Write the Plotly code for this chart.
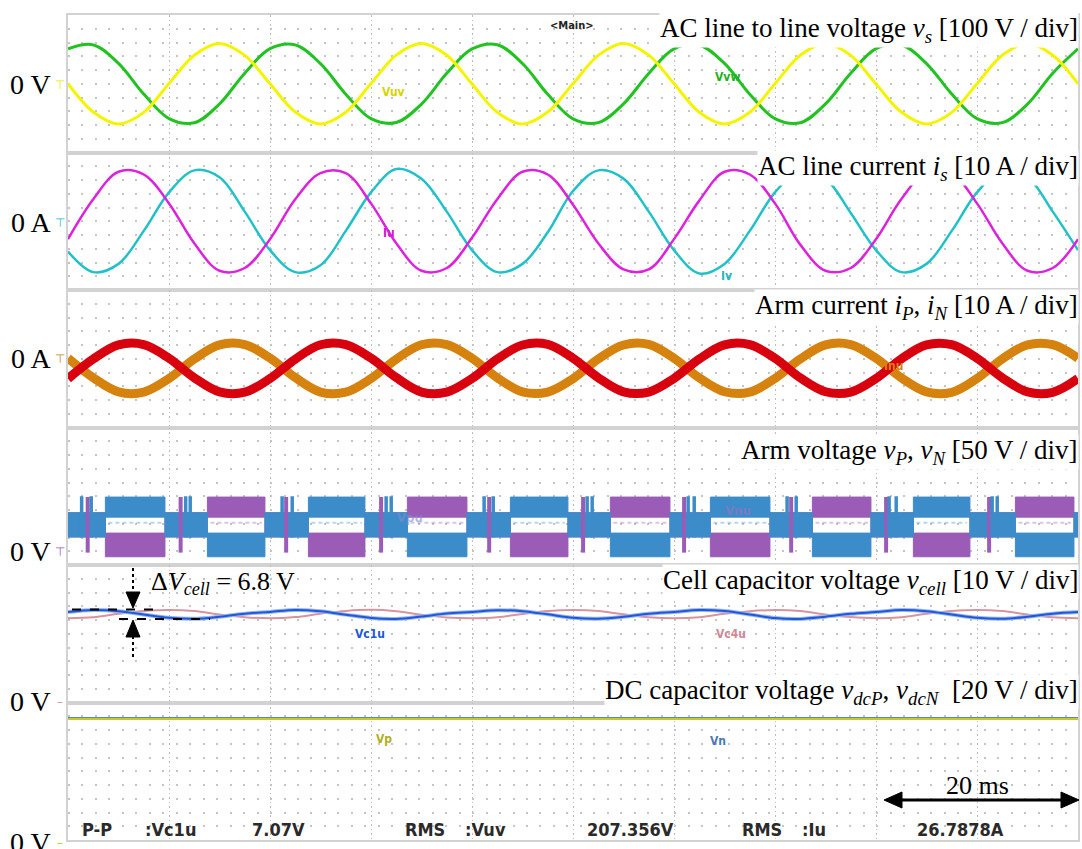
import plotly.graph_objects as go

# ---------------- data ----------------
T_GRID = [i * 2.5 for i in range(41)]  # time [ms], 10 ms/div

# Panel 1: AC line-to-line voltages [V]
VUV = [0, -205, -292, -208, 2, 207, 293, 206,
       0, -206, -292, -207, 1, 208, 292, 207,
       -1, -207, -293, -206, 0, 206, 293, 208,
       1, -207, -292, -207, 0, 207, 293, 206,
       -1, -206, -292, -208, 0, 207, 292, 207,
       0]
VVW = [254, 283, 148, -75, -253, -284, -147, 77,
       255, 283, 146, -76, -254, -282, -148, 76,
       253, 284, 147, -77, -255, -283, -146, 75,
       254, 282, 148, -76, -253, -284, -147, 76,
       255, 283, 147, -75, -254, -283, -148, 77,
       254]

# Panel 2: AC line currents [A]
IU = [-13, 16, 36, 34, 13, -16, -36, -34,
      -13, 16, 35, 35, 13, -16, -36, -34,
      -12, 16, 36, 34, 12, -16, -35, -35,
      -13, 15, 36, 34, 13, -17, -36, -34,
      -13, 16, 36, 35, 13, -16, -36, -34,
      -13]
IV = [-22, -37, -31, -7, 21, 37, 32, 7,
      -21, -37, -32, -7, 21, 38, 31, 7,
      -21, -37, -31, -8, 22, 37, 31, 7,
      -21, -38, -31, -7, 21, 37, 31, 6,
      -21, -37, -31, -7, 21, 37, 32, 7,
      -21]

# Panel 3: arm currents [A]
IP = [-14.5, -0.2, 10.1, 10.3, 0.4, -13.8, -24.1, -24.3,
      -14.4, -0.3, 10.2, 10.3, 0.5, -13.7, -24.2, -24.3,
      -14.4, -0.2, 10.0, 10.4, 0.4, -13.8, -24.1, -24.2,
      -14.3, -0.2, 10.1, 10.3, 0.3, -13.9, -24.0, -24.3,
      -14.4, -0.1, 10.1, 10.2, 0.4, -13.8, -24.1, -24.4,
      -14.4]
IN = [0.4, -13.8, -24.1, -24.3, -14.4, -0.2, 10.1, 10.3,
      0.5, -13.7, -24.2, -24.3, -14.4, -0.3, 10.2, 10.3,
      0.4, -13.8, -24.1, -24.2, -14.5, -0.2, 10.0, 10.4,
      0.3, -13.9, -24.0, -24.3, -14.3, -0.2, 10.1, 10.3,
      0.4, -13.8, -24.1, -24.4, -14.4, -0.1, 10.1, 10.2,
      0.4]

# Panel 4: arm voltages (multilevel blocks) [ms] and band levels [V]
P_HIGH_START = [3.7, 23.8, 43.8, 63.6, 83.7]
P_HIGH_END = [9.6, 29.4, 49.5, 69.5, 89.3]
N_HIGH_START = [13.8, 33.6, 53.7, 73.7, 93.8]
N_HIGH_END = [19.5, 39.5, 59.6, 79.5, 99.6]
ARM_HIGH = (124, 197)
ARM_MID = (52, 140)
ARM_LOW = (-20, 66)
ARM_GAP_TRACE = 104
SPIKE_P = [1.35, 2.3, 11.65, 12.1, 21.2, 22.2, 31.5, 32.0, 41.2, 42.1,
           51.4, 51.9, 61.4, 62.0, 71.2, 72.1, 81.3, 82.0, 91.5, 92.0]
SPIKE_N = [1.95, 11.15, 21.6, 31.0, 41.7, 51.0, 61.0, 71.6, 81.0, 91.2]
SPIKE_SPAN_P = (50, 200)
SPIKE_SPAN_N = (-5, 197)

# Panel 5: cell capacitor voltages [V]
VC1U = [65.8, 67.2, 66.4, 64.0, 61.6, 60.9, 62.4, 64.6,
        65.9, 67.3, 66.3, 63.9, 61.5, 60.8, 62.5, 64.7,
        65.8, 67.1, 66.4, 64.1, 61.6, 60.9, 62.3, 64.6,
        65.9, 67.2, 66.5, 64.0, 61.4, 60.8, 62.4, 64.5,
        65.8, 67.2, 66.4, 64.0, 61.6, 60.9, 62.4, 64.6,
        65.8]
VC4U = [61.3, 62.0, 64.5, 66.5, 67.3, 66.5, 64.0, 62.0,
        61.2, 62.1, 64.6, 66.6, 67.4, 66.4, 63.9, 61.9,
        61.3, 62.0, 64.4, 66.5, 67.3, 66.6, 64.1, 62.0,
        61.2, 62.0, 64.5, 66.4, 67.2, 66.5, 64.0, 62.1,
        61.3, 62.0, 64.5, 66.5, 67.3, 66.5, 64.0, 62.0,
        61.3]
VCELL_MAX = 67.6
VCELL_MIN = 60.8  # difference = 6.8 V

# Panel 6: DC capacitor voltages [V]
T_DC = [0, 10, 20, 30, 40, 50, 60, 70, 80, 90, 100]
VDCP = [176.0, 176.1, 176.0, 175.9, 176.0, 176.1, 176.0, 176.0, 175.9, 176.0, 176.0]
VDCN = [176.6, 176.5, 176.6, 176.7, 176.6, 176.5, 176.6, 176.6, 176.7, 176.6, 176.6]

# ---------------- layout helpers ----------------
W, H = 1082, 849


def PX(x):
    return x / W


def PY(y):
    return 1 - y / H


X_DOM = [PX(68), PX(1078)]
BOUNDS = [15, 152.5, 290, 427.5, 565, 702.5, 840]
Y_RANGES = [(-500, 500), (-50, 50), (-50, 50), (-50, 450), (0, 100), (0, 200)]
GRID_DOT = "#c4c4c4"
BORDER = "#d2d2d2"

fig = go.Figure()


def ax(i):
    return ("x" if i == 1 else f"x{i}"), ("y" if i == 1 else f"y{i}")


def add_line(i, x, y, color, width, shape="spline", dash=None, opacity=1.0):
    xa, ya = ax(i)
    fig.add_trace(go.Scatter(x=x, y=y, mode="lines", xaxis=xa, yaxis=ya, opacity=opacity,
                             line=dict(color=color, width=width, shape=shape, smoothing=1.0,
                                       dash=dash),
                             hoverinfo="skip"))


# Panel 1
add_line(1, T_GRID, VVW, "#22c222", 3)
add_line(1, T_GRID, VUV, "#f4f400", 3)
# Panel 2
add_line(2, T_GRID, IV, "#22c0c8", 2.5)
add_line(2, T_GRID, IU, "#dc22dc", 2.5)
# Panel 3
add_line(3, T_GRID, IN, "#d6820f", 9)
add_line(3, T_GRID, IP, "#d8000e", 9)


# Panel 4 : band polygons
def band_polys(high_iv, low_iv, t_end=100.0):
    segs = [(s, e, ARM_HIGH) for s, e in high_iv] + [(s, e, ARM_LOW) for s, e in low_iv]
    segs.sort()
    out = []
    t = 0.0
    for s, e, lev in segs:
        if s > t:
            out.append((t, s, ARM_MID))
        out.append((s, e, lev))
        t = e
    if t < t_end:
        out.append((t, t_end, ARM_MID))
    xs, ys = [], []
    for s, e, (lo, hi) in out:
        xs += [s, e, e, s, s, None]
        ys += [lo, lo, hi, hi, lo, None]
    return xs, ys


def spikes(times, span):
    xs, ys = [], []
    for t in times:
        xs += [t, t, None]
        ys += [span[0], span[1], None]
    return xs, ys


def gap_dashes(high_iv):
    xs, ys = [], []
    for s, e in high_iv:
        xs += [s + 0.3, e - 0.3, None]
        ys += [ARM_GAP_TRACE, ARM_GAP_TRACE, None]
    return xs, ys


p_high = list(zip(P_HIGH_START, P_HIGH_END))
n_high = list(zip(N_HIGH_START, N_HIGH_END))
COL_P = "#3d8cca"
COL_N = "#9a5cb6"
xn, yn = band_polys(n_high, p_high)
xp, yp = band_polys(p_high, n_high)
fig.add_trace(go.Scatter(x=xn, y=yn, mode="lines", fill="toself", fillcolor=COL_N,
                         line=dict(color=COL_N, width=1), xaxis="x4", yaxis="y4", hoverinfo="skip"))
fig.add_trace(go.Scatter(x=xp, y=yp, mode="lines", fill="toself", fillcolor=COL_P,
                         line=dict(color=COL_P, width=1), xaxis="x4", yaxis="y4", hoverinfo="skip"))
gxp, gyp = gap_dashes(p_high)
gxn, gyn = gap_dashes(n_high)
add_line(4, gxp, gyp, COL_P, 2, shape="linear", dash="4px,3px", opacity=0.35)
add_line(4, gxn, gyn, COL_N, 2, shape="linear", dash="4px,3px", opacity=0.35)
sxn, syn = spikes(SPIKE_N, SPIKE_SPAN_N)
sxp, syp = spikes(SPIKE_P, SPIKE_SPAN_P)
fig.add_trace(go.Scatter(x=sxn, y=syn, mode="lines", line=dict(color=COL_N, width=4),
                         xaxis="x4", yaxis="y4", hoverinfo="skip"))
fig.add_trace(go.Scatter(x=sxp, y=syp, mode="lines", line=dict(color=COL_P, width=3.5),
                         xaxis="x4", yaxis="y4", hoverinfo="skip"))

# Panel 5
add_line(5, T_GRID, VC4U, "#d8949e", 2)
add_line(5, T_GRID, VC1U, "#9ab8f0", 4)
add_line(5, T_GRID, VC1U, "#2058d8", 2)
# Panel 6
add_line(6, T_DC, VDCN, "#5a88c4", 3, shape="linear")
add_line(6, T_DC, VDCP, "#c8c828", 2, shape="linear")

# ---------------- axes ----------------
layout = dict(width=W, height=H, margin=dict(l=0, r=0, t=0, b=0),
              paper_bgcolor="white", plot_bgcolor="white", showlegend=False)
for i in range(1, 7):
    top, bot = BOUNDS[i - 1], BOUNDS[i]
    lo, hi = Y_RANGES[i - 1]
    xk = "xaxis" if i == 1 else f"xaxis{i}"
    yk = "yaxis" if i == 1 else f"yaxis{i}"
    layout[xk] = dict(domain=X_DOM, range=[0, 100], anchor=ax(i)[1],
                      showgrid=True, dtick=10, tick0=0, gridcolor="#bdbdbd", gridwidth=1,
                      griddash="1.5px,3px", showticklabels=False, ticks="", zeroline=False,
                      showline=True, mirror=True, linecolor=BORDER, linewidth=2, fixedrange=True)
    if i > 1:
        layout[xk]["matches"] = "x"
    layout[yk] = dict(domain=[PY(bot), PY(top)], range=[lo, hi], anchor=ax(i)[0],
                      showgrid=True, dtick=(hi - lo) / 10, tick0=lo, gridcolor=GRID_DOT,
                      gridwidth=2, griddash="2px,11.47px", showticklabels=False, ticks="",
                      zeroline=False, showline=True, mirror=True, linecolor=BORDER,
                      linewidth=2, fixedrange=True)
fig.update_layout(**layout)

# ---------------- annotations ----------------
SERIF = "Liberation Serif, Times New Roman, serif"
SCOPE = "Liberation Sans Narrow, Arial Narrow, DejaVu Sans Condensed, Roboto, sans-serif"
ann = []

TITLES = [
    ("AC line to line voltage <i>v</i><sub><i>s</i></sub> [100 V / div]", 30),
    ("AC line current <i>i</i><sub><i>s</i></sub> [10 A / div]", 168),
    ("Arm current <i>i</i><sub><i>P</i></sub>, <i>i</i><sub><i>N</i></sub> [10 A / div]", 307),
    ("Arm voltage <i>v</i><sub><i>P</i></sub>, <i>v</i><sub><i>N</i></sub> [50 V / div]", 452),
    ("Cell capacitor voltage <i>v</i><sub><i>cell</i></sub> [10 V / div]", 582),
    ("DC capacitor voltage <i>v</i><sub><i>dcP</i></sub>, <i>v</i><sub><i>dcN</i></sub>  [20 V / div]", 692),
]
for txt, yc in TITLES:
    ann.append(dict(text=txt, x=PX(1079), y=PY(yc), xref="paper", yref="paper",
                    xanchor="right", yanchor="middle", showarrow=False,
                    font=dict(family=SERIF, size=27, color="black"),
                    bgcolor="white", borderpad=0))

ZERO_LABELS = [("0 V", 84, "#e8e800"), ("0 A", 222, "#22c0c8"), ("0 A", 358, "#d6820f"),
               ("0 V", 551, "#9a5cb6"), ("0 V", 701, "#d8949e"), ("0 V", 842, "#c8c828")]
for txt, yc, col in ZERO_LABELS:
    ann.append(dict(text=txt, x=PX(53), y=PY(yc), xref="paper", yref="paper",
                    xanchor="right", yanchor="middle", showarrow=False,
                    font=dict(family=SERIF, size=28, color="black")))
    sym = "–" if col in ("#d8949e", "#c8c828") else "⊤"
    ann.append(dict(text=sym, x=PX(60), y=PY(yc + 1), xref="paper", yref="paper",
                    xanchor="center", yanchor="middle", showarrow=False,
                    font=dict(family="DejaVu Sans", size=12, color=col)))

SCOPE_LABELS = [("Vuv", 393, 92, "#d4d400"), ("Vvw", 727, 77, "#22b022"),
                ("Iu", 389, 233, "#d020d0"), ("Iv", 726, 276, "#20b8c0"),
                ("Inu", 893, 366, "#d6820f"), ("Vc1u", 370, 634, "#2058d8"),
                ("Vc4u", 731, 634, "#d08898"), ("Vp", 384, 739, "#b0b020"),
                ("Vn", 718, 741, "#4a78b8")]
for txt, x, y, col in SCOPE_LABELS:
    ann.append(dict(text=f"<b>{txt}</b>", x=PX(x), y=PY(y), xref="paper", yref="paper",
                    xanchor="center", yanchor="middle", showarrow=False,
                    font=dict(family=SCOPE, size=12, color=col)))
for txt, x, y, col in [("Vpu", 410, 517, "#7f8cd0"), ("Vnu", 738, 511, "#a070c0")]:
    ann.append(dict(text=f"<b>{txt}</b>", x=PX(x), y=PY(y), xref="paper", yref="paper",
                    xanchor="center", yanchor="middle", showarrow=False, opacity=0.6,
                    font=dict(family=SCOPE, size=13, color=col)))
ann.append(dict(text="<b>&lt;Main&gt;</b>", x=PX(572), y=PY(26), xref="paper", yref="paper",
                xanchor="center", yanchor="middle", showarrow=False,
                font=dict(family=SCOPE, size=11, color="#222")))

READOUT = [("P-P", 80), (":Vc1u", 143), ("7.07V", 250), ("RMS", 403), (":Vuv", 463),
           ("207.356V", 585), ("RMS", 740), (":Iu", 800), ("26.7878A", 915)]
for txt, x in READOUT:
    ann.append(dict(text=f"<b>{txt}</b>", x=PX(x), y=PY(829), xref="paper", yref="paper",
                    xanchor="left", yanchor="middle", showarrow=False,
                    font=dict(family=SCOPE, size=18, color="#2a2a2a")))

# Delta V cell annotation
ann.append(dict(text="Δ<i>V</i><sub><i>cell</i></sub> = 6.8 V", x=PX(149), y=PY(583),
                xref="paper", yref="paper", xanchor="left", yanchor="middle", showarrow=False,
                font=dict(family=SERIF, size=26, color="black")))
# 20 ms label
ann.append(dict(text="20 ms", x=90, y=PY(785), xref="x6", yref="paper", xanchor="center",
                yanchor="middle", showarrow=False, font=dict(family=SERIF, size=26, color="black")))
fig.update_layout(annotations=ann)

# shapes for delta V and 20 ms markers
shapes = []
shapes.append(dict(type="line", xref="paper", yref="y5", x0=PX(72), x1=PX(153),
                   y0=VCELL_MAX, y1=VCELL_MAX, line=dict(color="black", width=2, dash="dash")))
shapes.append(dict(type="line", xref="paper", yref="y5", x0=PX(119), x1=PX(210),
                   y0=VCELL_MIN, y1=VCELL_MIN, line=dict(color="black", width=2, dash="dash")))
cx = 133
shapes.append(dict(type="line", xref="paper", yref="paper", x0=PX(cx), x1=PX(cx),
                   y0=PY(568), y1=PY(593), line=dict(color="black", width=2, dash="dot")))
shapes.append(dict(type="line", xref="paper", yref="paper", x0=PX(cx), x1=PX(cx),
                   y0=PY(636), y1=PY(659), line=dict(color="black", width=2, dash="dot")))


def tri(x1, y1, x2, y2, x3, y3):
    return dict(type="path", xref="paper", yref="paper",
                path=f"M {PX(x1)},{PY(y1)} L {PX(x2)},{PY(y2)} L {PX(x3)},{PY(y3)} Z",
                fillcolor="black", line=dict(color="black", width=1))


shapes.append(tri(cx - 7, 592, cx + 7, 592, cx, 608))
shapes.append(tri(cx - 7, 637, cx + 7, 637, cx, 620))
# 20 ms arrow
shapes.append(dict(type="line", xref="x6", yref="paper", x0=81.5, x1=98.5,
                   y0=PY(800), y1=PY(800), line=dict(color="black", width=3)))
shapes.append(tri(884, 800, 902, 792, 902, 808))
shapes.append(tri(1079, 800, 1061, 792, 1061, 808))
fig.update_layout(shapes=shapes)

fig.write_html("out.html", config={"displayModeBar": False},
               post_script="document.body.style.margin='0';document.body.style.padding='0';")
